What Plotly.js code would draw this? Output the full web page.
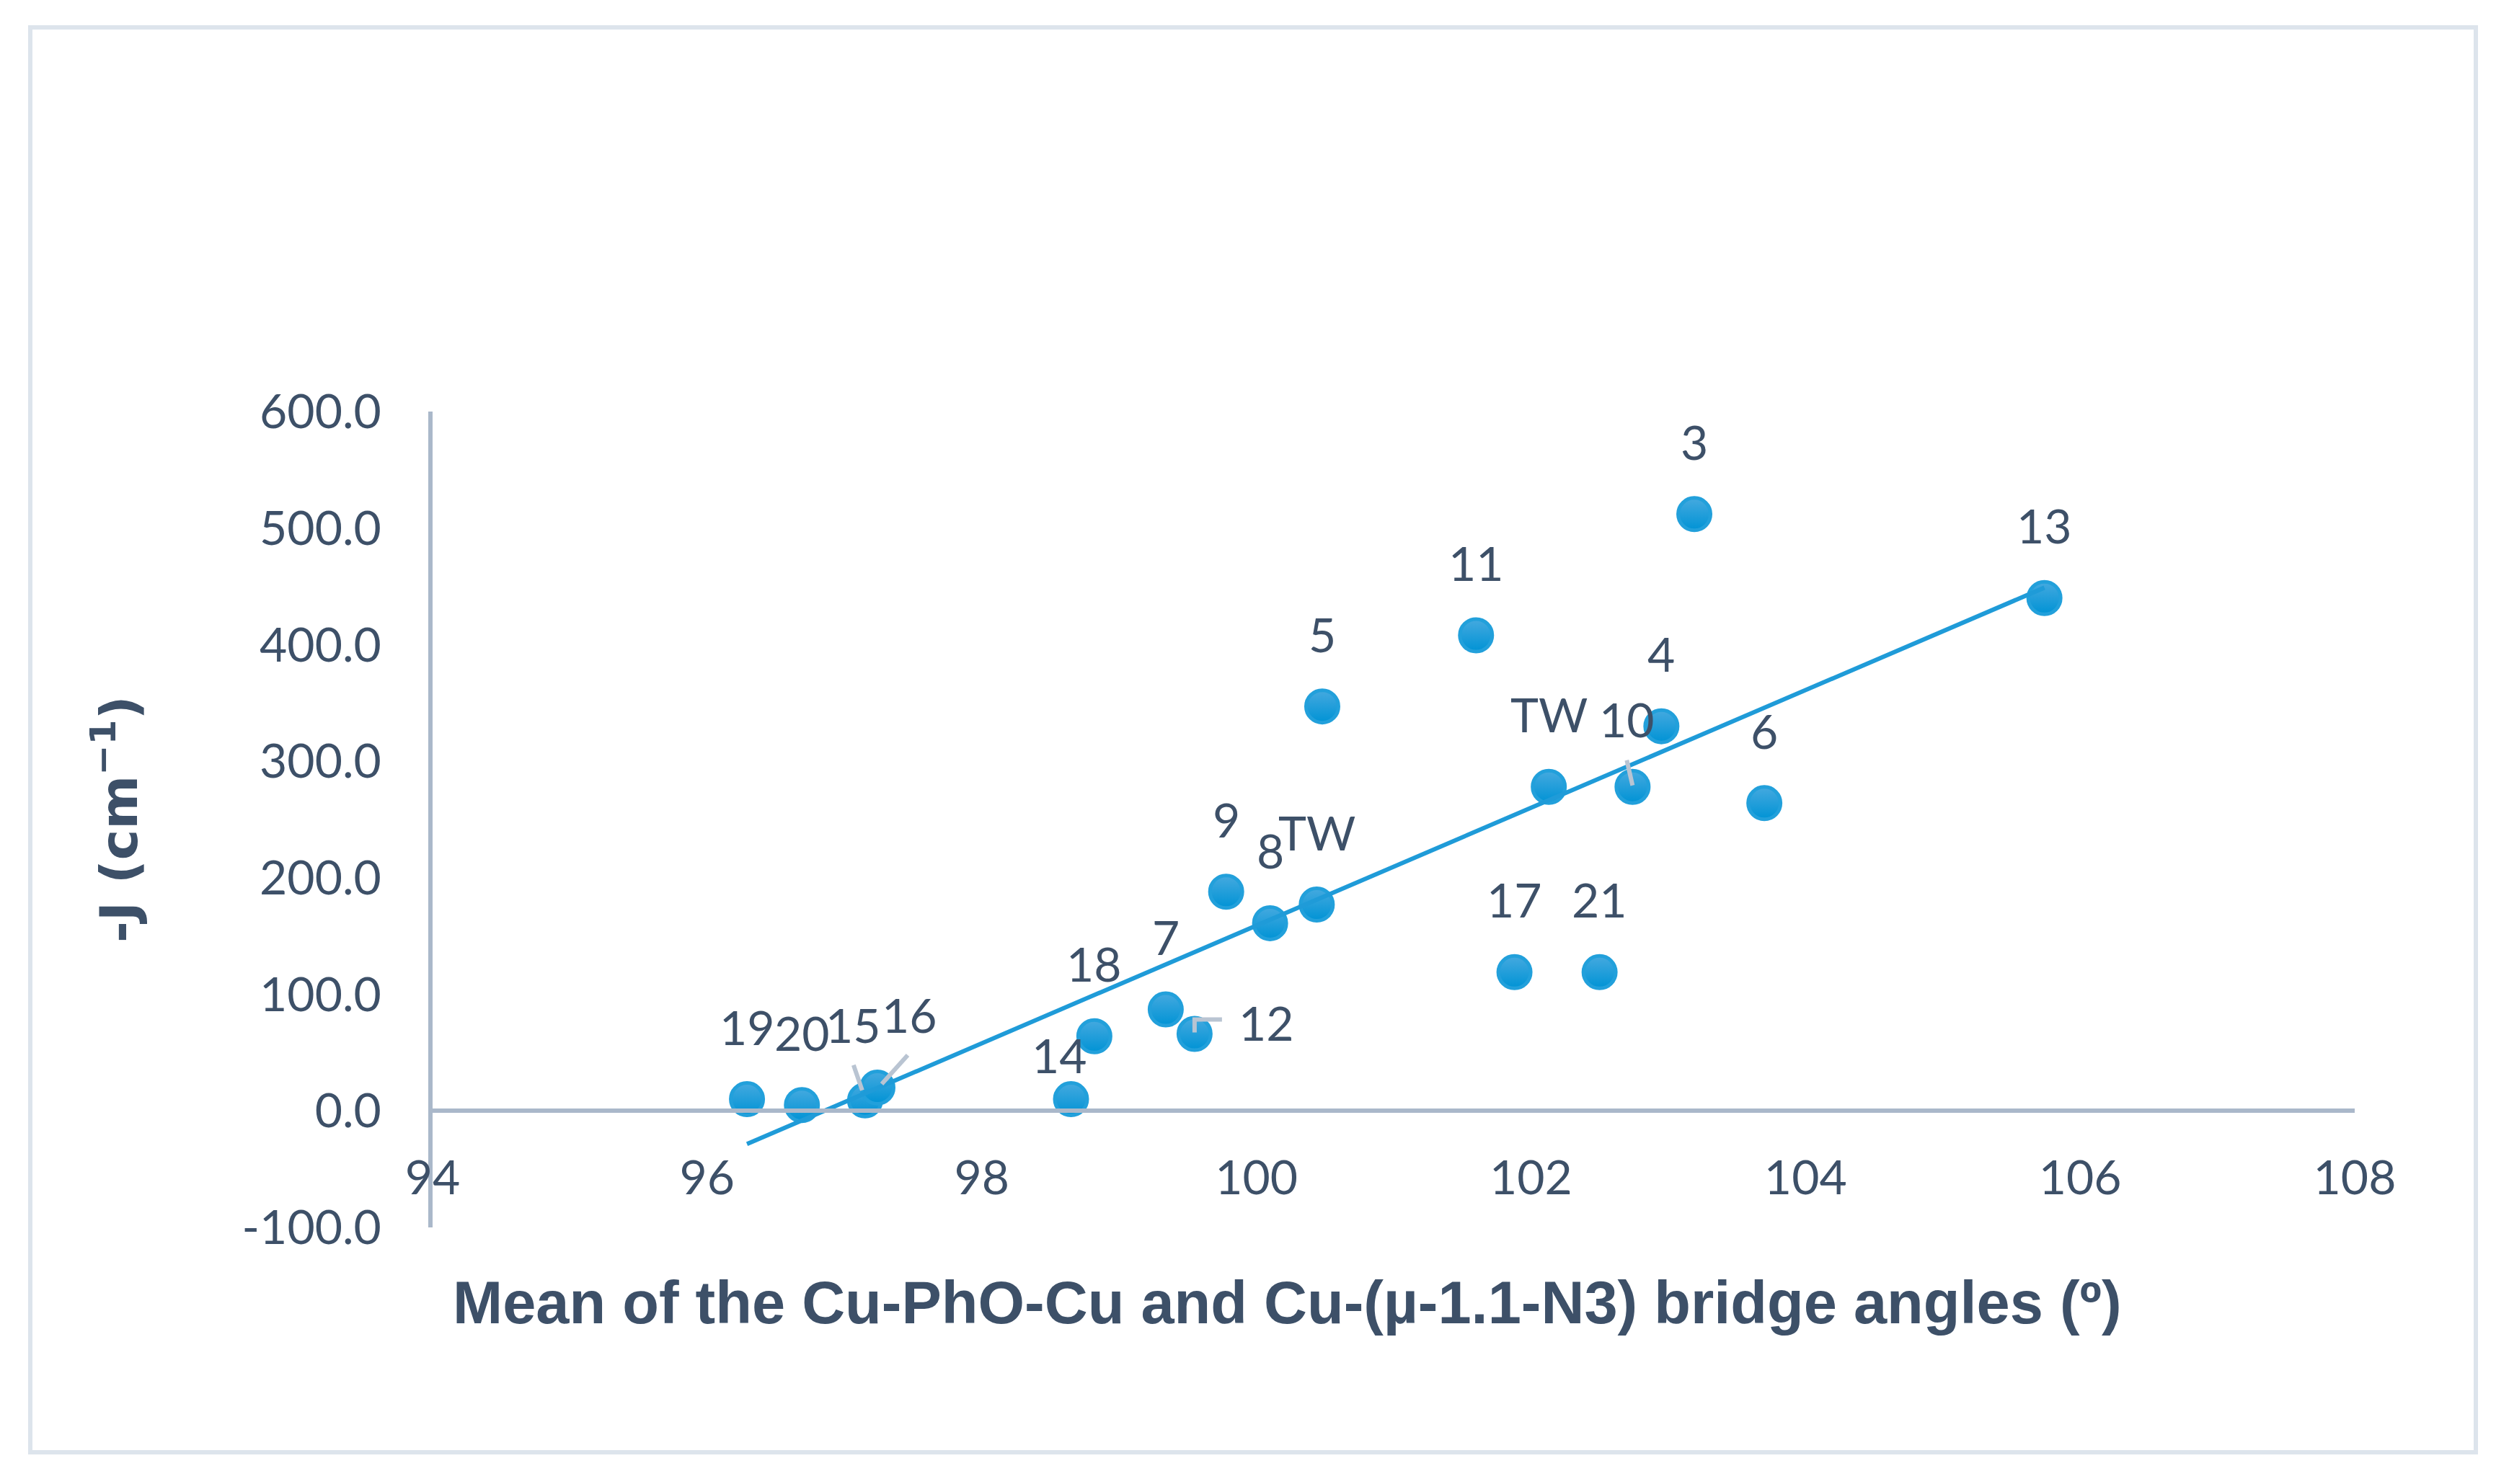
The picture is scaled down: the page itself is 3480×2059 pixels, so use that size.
<!DOCTYPE html>
<html>
<head>
<meta charset="utf-8">
<script src="https://cdn.plot.ly/plotly-3.0.1.min.js"></script>
<style>
  html, body { margin: 0; padding: 0; background: #fff; }
  #chart { width: 3480px; height: 2059px; }
</style>
</head>
<body>
<div id="chart"></div>
<script>
// compound labels, mean bridge angle (deg) and -J (cm-1)
var labels = ['19', '20', '15', '16', '14', '18', '7', '12', '9', '8', 'TW',
              '5', '11', '17', 'TW', '21', '10', '4', '3', '6', '13'];
var angle = [96.29, 96.69, 97.15, 97.24, 98.65, 98.82, 99.34, 99.55, 99.78, 100.10, 100.44,
             100.48, 101.60, 101.88, 102.13, 102.50, 102.74, 102.95, 103.19, 103.70, 105.74];
var minusJ = [10, 5, 9, 20, 10, 64, 87, 66, 188, 161, 177,
              347, 408, 119, 278, 119, 278, 330, 512, 264, 440];
var yTicks = [-100, 0, 100, 200, 300, 400, 500, 600];
var xTicks = [94, 96, 98, 100, 102, 104, 106, 108];

var W = 3480, H = 2059;
var M = { l: 600, r: 214, t: 571, b: 356 };
var textColor = '#3d5068';
var axisColor = '#aab8ca';
var leaderColor = '#b9c4d2';
var tickFont = { family: 'Lato, Open Sans, sans-serif', size: 66, color: textColor };

function paperX(px) { return (px - M.l) / (W - M.l - M.r); }
function paperY(py) { return (H - M.b - py) / (H - M.t - M.b); }

// linear least squares trendline (like Excel's)
var n = angle.length, sx = 0, sy = 0;
for (var i = 0; i < n; i++) { sx += angle[i]; sy += minusJ[i]; }
var mx = sx / n, my = sy / n, sxy = 0, sxx = 0;
for (var i = 0; i < n; i++) {
  sxy += (angle[i] - mx) * (minusJ[i] - my);
  sxx += (angle[i] - mx) * (angle[i] - mx);
}
var slope = sxy / sxx, icept = my - slope * mx;
var xMin = Math.min.apply(null, angle), xMax = Math.max.apply(null, angle);

var points = {
  x: angle,
  y: minusJ,
  mode: 'markers',
  type: 'scatter',
  marker: {
    size: 45,
    color: '#45a9df',
    gradient: { type: 'vertical', color: '#0093d5' },
    line: { color: '#22a0db', width: 5 }
  },
  hoverinfo: 'skip'
};

var trend = {
  x: [xMin, xMax],
  y: [icept + slope * xMin, icept + slope * xMax],
  mode: 'lines',
  type: 'scatter',
  line: { color: '#1f9bd8', width: 6 },
  hoverinfo: 'skip'
};

// label offsets in px (x right, y up), default above the point
var shifts = { 2: [-16, 105], 3: [45, 101], 4: [-16, 62], 7: [100, 16], 16: [-8, 94] };
// leader lines, pixel paths relative to the point
var leaders = {
  2: 'M -16 49 L -4 14',
  3: 'M 42 45 L 6 5',
  7: 'M 38 20 L 0 20 L 0 2',
  16: 'M -8 37 L 0 2'
};

var annotations = [];
for (var i = 0; i < n; i++) {
  var s = shifts[i] || [0, 101];
  annotations.push({
    x: angle[i], y: minusJ[i], xref: 'x', yref: 'y',
    text: labels[i], showarrow: false,
    xanchor: 'center', yanchor: 'middle',
    xshift: s[0], yshift: s[1],
    font: tickFont
  });
}
annotations.push({
  xref: 'paper', yref: 'paper', x: paperX(1785), y: paperY(1807),
  xanchor: 'center', yanchor: 'middle',
  text: 'Mean of the Cu-PhO-Cu and Cu-(µ-1.1-N3) bridge angles (º)',
  showarrow: false,
  font: { family: 'Liberation Sans Narrow, Liberation Sans, Arial, sans-serif', size: 83, color: textColor, weight: 'bold' }
});
annotations.push({
  xref: 'paper', yref: 'paper', x: paperX(160), y: paperY(1137),
  xanchor: 'center', yanchor: 'middle',
  text: '-J (cm<sup>−1</sup>)', textangle: -90,
  showarrow: false,
  font: { family: 'DejaVu Sans, sans-serif', size: 72, color: textColor, weight: 'bold' }
});

var shapes = [{
  type: 'rect', xref: 'paper', yref: 'paper',
  x0: paperX(42), x1: paperX(3434), y0: paperY(2015), y1: paperY(38),
  line: { color: '#dde4ec', width: 6 }, layer: 'below'
}];
Object.keys(leaders).forEach(function (k) {
  shapes.push({
    type: 'path', xref: 'x', yref: 'y',
    xsizemode: 'pixel', ysizemode: 'pixel',
    xanchor: angle[k], yanchor: minusJ[k],
    path: leaders[k],
    line: { color: leaderColor, width: 6 },
    layer: 'above'
  });
});

var layout = {
  width: W, height: H,
  margin: M,
  paper_bgcolor: '#fff', plot_bgcolor: '#fff',
  showlegend: false,
  xaxis: {
    range: [94, 108],
    tickmode: 'array', tickvals: xTicks, ticktext: xTicks.map(String),
    anchor: 'free', position: 1 / 7,
    showgrid: false, zeroline: false,
    showline: true, linecolor: axisColor, linewidth: 6,
    ticks: '', ticklabelstandoff: 34,
    tickfont: tickFont
  },
  yaxis: {
    range: [-100, 600],
    tickmode: 'array', tickvals: yTicks, ticktext: yTicks.map(function (v) { return v.toFixed(1); }),
    showgrid: false, zeroline: false,
    showline: true, linecolor: axisColor, linewidth: 6,
    ticks: '', ticklabelstandoff: 52,
    tickfont: tickFont
  },
  annotations: annotations,
  shapes: shapes
};

Plotly.newPlot('chart', [points, trend], layout, { staticPlot: true });
</script>
</body>
</html>
